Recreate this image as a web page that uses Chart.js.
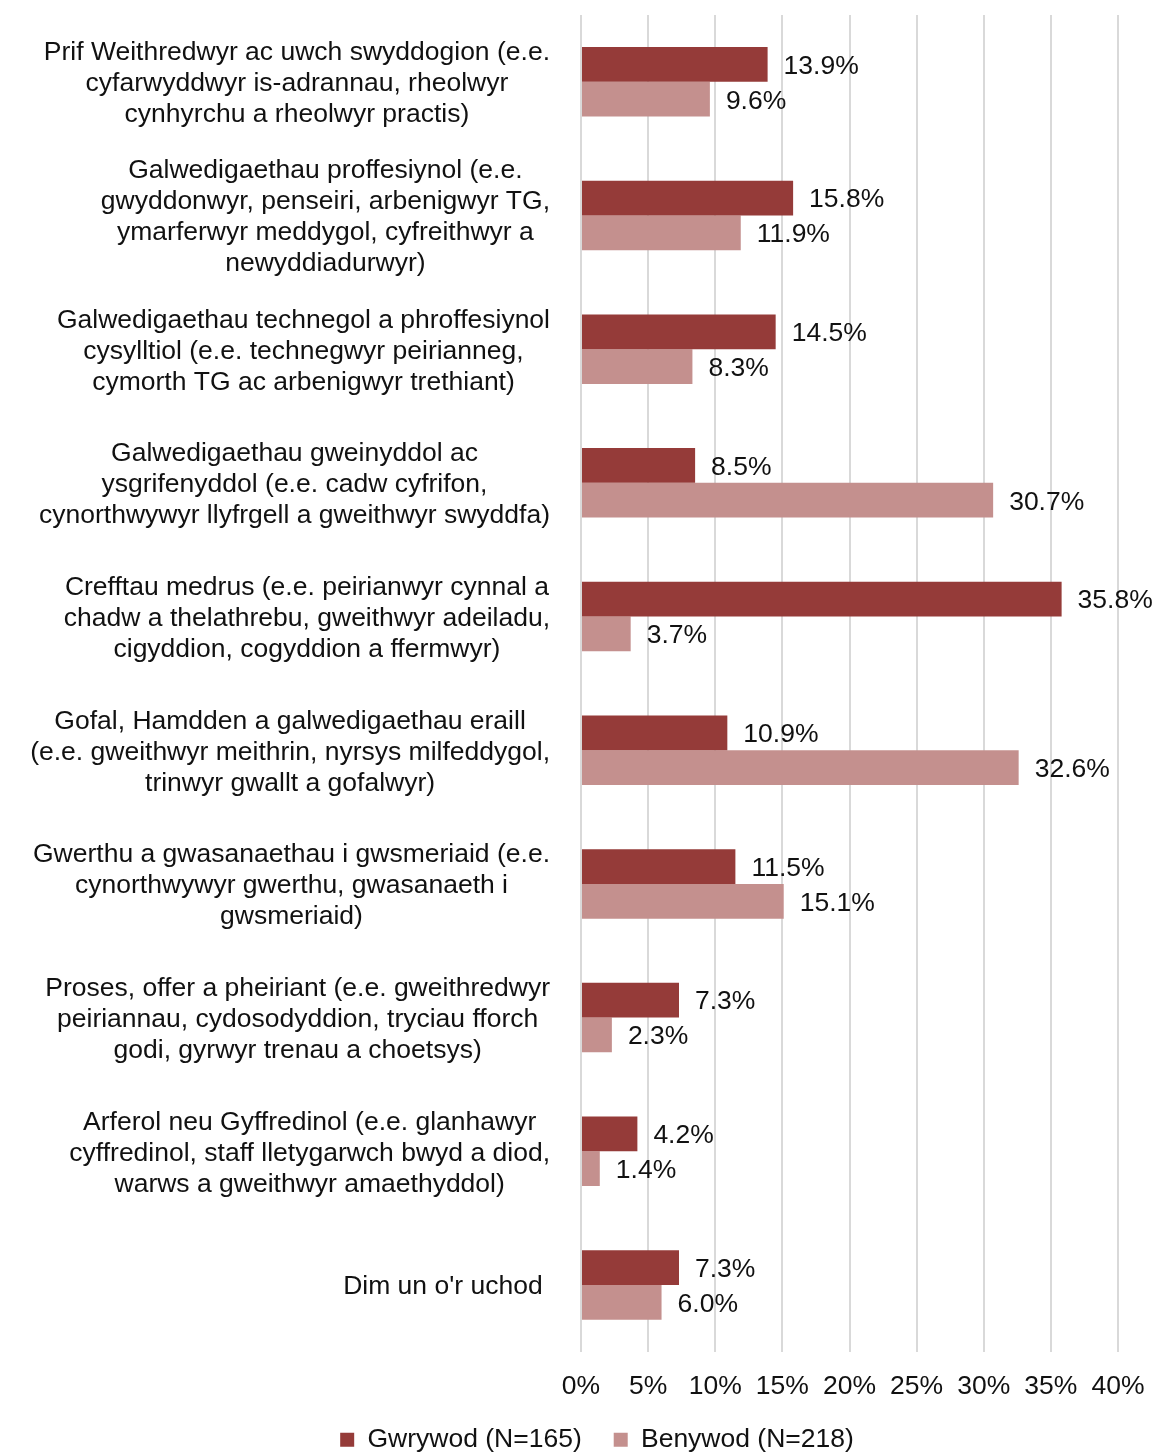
<!DOCTYPE html>
<html>
<head>
<meta charset="utf-8">
<script src="https://cdn.jsdelivr.net/npm/chart.js@4/dist/chart.umd.min.js"></script>
<style>
  html, body { margin: 0; padding: 0; background: #fff; }
  #wrap { width: 1156px; height: 1454px; position: relative; }
</style>
</head>
<body>
<div id="wrap"><canvas id="c" width="1156" height="1454"></canvas></div>
<script>
const categories = [
  ["Prif Weithredwyr ac uwch swyddogion (e.e.", "cyfarwyddwyr is-adrannau, rheolwyr", "cynhyrchu a rheolwyr practis)"],
  ["Galwedigaethau proffesiynol (e.e.", "gwyddonwyr, penseiri, arbenigwyr TG,", "ymarferwyr meddygol, cyfreithwyr a", "newyddiadurwyr)"],
  ["Galwedigaethau technegol a phroffesiynol", "cysylltiol (e.e. technegwyr peirianneg,", "cymorth TG ac arbenigwyr trethiant)"],
  ["Galwedigaethau gweinyddol ac", "ysgrifenyddol (e.e. cadw cyfrifon,", "cynorthwywyr llyfrgell a gweithwyr swyddfa)"],
  ["Crefftau medrus (e.e. peirianwyr cynnal a", "chadw a thelathrebu, gweithwyr adeiladu,", "cigyddion, cogyddion a ffermwyr)"],
  ["Gofal, Hamdden a galwedigaethau eraill", "(e.e. gweithwyr meithrin, nyrsys milfeddygol,", "trinwyr gwallt a gofalwyr)"],
  ["Gwerthu a gwasanaethau i gwsmeriaid (e.e.", "cynorthwywyr gwerthu, gwasanaeth i", "gwsmeriaid)"],
  ["Proses, offer a pheiriant (e.e. gweithredwyr", "peiriannau, cydosodyddion, tryciau fforch", "godi, gyrwyr trenau a choetsys)"],
  ["Arferol neu Gyffredinol (e.e. glanhawyr", "cyffredinol, staff lletygarwch bwyd a diod,", "warws a gweithwyr amaethyddol)"],
  ["Dim un o'r uchod "]
];
const seriesNames = ["Gwrywod (N=165)", "Benywod (N=218)"];
const gwrywod = [13.9, 15.8, 14.5, 8.5, 35.8, 10.9, 11.5, 7.3, 4.2, 7.3];
const benywod = [9.6, 11.9, 8.3, 30.7, 3.7, 32.6, 15.1, 2.3, 1.4, 6.0];
const xTickValues = [0, 5, 10, 15, 20, 25, 30, 35, 40];

const FONT = "'Liberation Sans', Arial, sans-serif";
const FS = 26.5;
const TEXT = '#111111';

const catLabelPlugin = {
  id: 'catLabels',
  afterDraw(chart) {
    const ctx = chart.ctx;
    const y = chart.scales.y;
    const right = 550;
    const lh = 31;
    ctx.save();
    ctx.font = FS + 'px ' + FONT;
    ctx.fillStyle = TEXT;
    ctx.textAlign = 'center';
    ctx.textBaseline = 'middle';
    chart.data.labels.forEach((lines, i) => {
      const arr = Array.isArray(lines) ? lines : [lines];
      let maxW = 0;
      arr.forEach(l => { maxW = Math.max(maxW, ctx.measureText(l).width); });
      const cx = right - maxW / 2;
      const cy = y.getPixelForTick(i) + 2;
      const startY = cy - (arr.length - 1) * lh / 2;
      arr.forEach((l, k) => ctx.fillText(l, cx, startY + k * lh));
    });
    ctx.restore();
  }
};

const valueLabelPlugin = {
  id: 'valueLabels',
  afterDatasetsDraw(chart) {
    const ctx = chart.ctx;
    ctx.save();
    ctx.font = FS + 'px ' + FONT;
    ctx.fillStyle = TEXT;
    ctx.textAlign = 'left';
    ctx.textBaseline = 'middle';
    chart.data.datasets.forEach((ds, di) => {
      const meta = chart.getDatasetMeta(di);
      meta.data.forEach((bar, i) => {
        ctx.fillText(ds.data[i].toFixed(1) + '%', bar.x + 16, bar.y + 2);
      });
    });
    ctx.restore();
  }
};

new Chart(document.getElementById('c'), {
  type: 'bar',
  data: {
    labels: categories,
    datasets: [
      { label: seriesNames[0], data: gwrywod, backgroundColor: '#953B39', borderWidth: 0,
        categoryPercentage: 0.52, barPercentage: 1.0 },
      { label: seriesNames[1], data: benywod, backgroundColor: '#C4908E', borderWidth: 0,
        categoryPercentage: 0.52, barPercentage: 1.0 }
    ]
  },
  options: {
    indexAxis: 'y',
    responsive: false,
    animation: false,
    devicePixelRatio: 1,
    layout: { padding: { left: 38, right: 0, top: 15, bottom: -9 } },
    scales: {
      x: {
        min: 0, max: 40,
        afterBuildTicks(scale) { scale.ticks = xTickValues.map(v => ({ value: v })); },
        afterFit(scale) { scale.height = 42.75; scale.paddingRight = 38; scale.paddingLeft = 0; },
        grid: { color: '#D9D9D9', lineWidth: 2, drawTicks: false },
        border: { display: false },
        ticks: {
          padding: 19,
          font: { family: FONT, size: FS },
          color: TEXT,
          callback: v => v + '%'
        }
      },
      y: {
        afterFit(scale) { scale.width = 543; },
        grid: { display: false, drawTicks: false },
        border: { display: false },
        ticks: { display: false }
      }
    },
    plugins: {
      legend: {
        position: 'bottom',
        labels: {
          font: { family: FONT, size: FS },
          color: TEXT,
          boxWidth: 14,
          boxHeight: 14,
          padding: 32
        }
      },
      tooltip: { enabled: false }
    }
  },
  plugins: [catLabelPlugin, valueLabelPlugin]
});
</script>
</body>
</html>
